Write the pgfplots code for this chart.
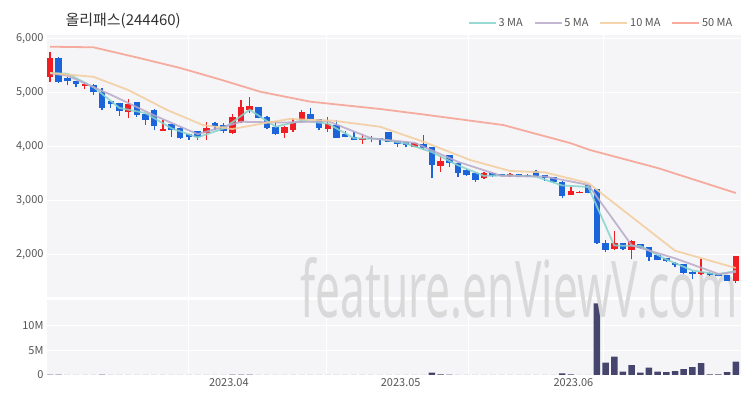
\documentclass[border=0pt]{standalone}
\usepackage{pgfplots}
\pgfplotsset{compat=1.18}
\usepackage{pgfplotstable}
\usepackage{fontspec}
\setmainfont{Noto Sans CJK KR}
\newfontfamily\wmfont{Noto Sans}

\definecolor{cup}{HTML}{F01E23}
\definecolor{cdown}{HTML}{1B64DA}
\definecolor{ma3}{HTML}{86D4CB}
\definecolor{ma5}{HTML}{B9A9C9}
\definecolor{ma10}{HTML}{F3CD9C}
\definecolor{ma50}{HTML}{F6A394}
\definecolor{volc}{HTML}{45456E}
\definecolor{bgc}{HTML}{F5F5F7}
\definecolor{txt}{HTML}{555555}

% rising days (red)
\pgfplotstableread{
i o h l c
0 5300 5760 5210 5650
4 5125 5210 5070 5160
9 4645 4890 4530 4790
13 4300 4500 4290 4340
18 4255 4460 4130 4360
21 4255 4605 4235 4560
22 4470 4870 4440 4745
23 4690 4930 4625 4765
27 4255 4380 4170 4375
28 4315 4530 4285 4440
29 4500 4685 4470 4655
32 4335 4560 4285 4420
36 4130 4235 4050 4170
42 4005 4075 4000 4070
45 3650 3835 3545 3745
50 3420 3530 3415 3525
53 3465 3520 3445 3495
60 3110 3255 3105 3190
61 3145 3180 3140 3170
65 2105 2450 2100 2215
67 2095 2270 1920 2265
75 1650 1920 1630 1685
79 1525 1985 1490 1980
}\upc

% falling days (blue)
\pgfplotstableread{
i o h l c
1 5650 5660 5190 5200
2 5270 5300 5140 5220
3 5220 5225 5110 5160
5 5150 5170 4960 5010
6 5020 5100 4680 4720
7 4860 4860 4730 4790
8 4810 4820 4580 4660
10 4830 4835 4560 4595
11 4605 4610 4410 4500
12 4685 4700 4315 4380
14 4420 4420 4190 4315
15 4360 4370 4150 4165
16 4235 4245 4130 4180
17 4295 4300 4130 4190
19 4450 4455 4315 4380
20 4400 4440 4250 4290
24 4735 4740 4530 4535
25 4560 4565 4325 4350
26 4375 4455 4220 4240
30 4605 4715 4515 4520
31 4520 4525 4315 4360
33 4405 4500 4170 4175
34 4235 4295 4180 4185
35 4190 4270 4125 4130
37 4170 4210 4085 4145
38 4160 4165 4035 4125
39 4275 4280 4095 4100
40 4110 4115 4005 4050
41 4085 4090 3995 4040
43 4050 4220 3945 3975
44 3995 4000 3420 3670
46 3850 3855 3625 3710
47 3700 3705 3450 3525
48 3575 3590 3465 3480
49 3525 3530 3355 3390
51 3525 3535 3445 3465
52 3495 3500 3455 3465
54 3495 3500 3435 3440
55 3490 3495 3435 3440
56 3560 3565 3465 3470
57 3480 3485 3375 3420
58 3440 3445 3340 3350
59 3360 3365 3050 3095
62 3295 3300 3140 3145
63 3215 3220 2210 2215
64 2220 2280 2060 2095
66 2225 2230 2100 2110
68 2205 2210 2120 2125
69 2140 2145 1895 1960
70 1995 2000 1905 1910
71 1940 1945 1875 1880
72 1845 1875 1770 1815
73 1835 1840 1645 1675
74 1690 1695 1550 1650
76 1675 1680 1620 1625
77 1650 1655 1605 1610
78 1630 1635 1520 1525
}\downc

\pgfplotstableread{
i v
0 5370
2 5357
5 5110
8 4723
11 4628
14 4345
17 4178
20 4343
23 4690
26 4375
29 4490
32 4433
35 4163
38 4147
41 4063
44 3905
47 3660
50 3465
53 3475
56 3450
59 3288
62 3260
65 2175
68 2167
71 1917
74 1713
77 1640
79 1705
}\maA

\pgfplotstableread{
i v
0 5365
2 5320
7 4968
12 4585
17 4238
22 4467
27 4453
32 4479
37 4161
42 4077
47 3725
52 3465
57 3453
62 3300
67 2180
72 1938
77 1649
79 1685
}\maB

\pgfplotstableread{
i v
0 5370
5 5300
9 5056
13.5 4685
17.6 4407
21 4333
25 4450
27.6 4519
32.6 4487
38 4376
43 4098
48.4 3759
53 3556
57 3530
62 3333
72 2080
79 1759
}\maC

\pgfplotstableread{
i v
0 5857
5 5846
10.4 5643
15 5463
19.6 5250
24.2 5024
30 4839
38 4704
42.6 4611
52.2 4407
59.9 4074
62.2 3944
70 3611
79 3148
}\maD

% volume in millions
\pgfplotstableread{
i v
0 0.10
1 0.08
2 0.05
3 0.04
4 0.04
5 0.05
6 0.06
7 0.04
8 0.04
9 0.05
10 0.04
11 0.04
12 0.05
13 0.04
14 0.03
15 0.04
16 0.03
17 0.03
18 0.04
19 0.03
20 0.03
21 0.06
22 0.08
23 0.07
24 0.05
25 0.04
26 0.04
27 0.03
28 0.04
29 0.05
30 0.04
31 0.03
32 0.03
33 0.04
34 0.03
35 0.03
36 0.03
37 0.03
38 0.03
39 0.04
40 0.03
41 0.03
42 0.03
43 0.05
44 0.50
45 0.12
46 0.06
47 0.05
48 0.04
49 0.04
50 0.04
51 0.04
52 0.03
53 0.03
54 0.04
55 0.03
56 0.04
57 0.04
58 0.05
59 0.35
60 0.15
61 0.05
62 0.05
63 14.5
64 2.5
65 3.7
66 0.7
67 2.0
68 0.5
69 1.5
70 0.7
71 0.6
72 0.8
73 1.2
74 1.6
75 2.4
76 0.15
77 0.15
78 0.6
79 2.7
}\vol

\pgfplotsset{
  chartbase/.style={
    scale only axis,
    width=694bp,
    xmin=-0.35, xmax=79.6,
    axis line style={draw=none},
    major tick length=0pt,
    axis background/.style={fill=bgc},
    grid style={draw=white, line width=1bp},
    xmajorgrids, ymajorgrids,
    ticklabel style={font=\fontsize{11bp}{13bp}\selectfont, text=txt},
    /pgf/number format/assume math mode=true,
  },
  candle/.style={forget plot, only marks, mark=*, mark size=0pt,
    mark options={draw=none, fill=none},
    error bars/.cd, y dir=plus, y explicit, error mark=none,
    error bar style={draw=#1}},
}

\begin{document}
\begin{tikzpicture}
\path[use as bounding box] (0,0) rectangle (750bp,400bp);

% volume panel
\begin{axis}[chartbase,
  at={(47bp,25bp)}, anchor=south west,
  height=75bp,
  ymin=0, ymax=15.2,
  ytick={0,5,10}, yticklabels={0,5M,10M},
  xtick={15.9,31.9,48.2,63.8}, xticklabels={},
  extra x ticks={20.6,40.4,60.3},
  extra x tick labels={2023.04,2023.05,2023.06},
  extra x tick style={grid=none},
]
\addplot[ybar, bar width=6.5bp, fill=volc, draw=none] table[x=i, y=v] {\vol};
\end{axis}

% price panel
\begin{axis}[chartbase,
  at={(47bp,103bp)}, anchor=south west,
  height=262bp,
  ymin=1222, ymax=6074,
  ytick={2000,3000,4000,5000,6000},
  yticklabel style={/pgf/number format/.cd, fixed, 1000 sep={,}},
  xtick={15.9,31.9,48.2,63.8}, xticklabels={},
  clip=false,
  legend style={at={(0.995,1.012)}, anchor=south east, legend columns=4,
    draw=none, fill=none, font=\fontsize{11bp}{13bp}\selectfont\color{txt},
    /tikz/every even column/.append style={column sep=9bp}},
  legend image code/.code={\draw[#1, line width=1.6bp] (0bp,0bp) -- (27bp,0bp);},
]
\node[anchor=base west, text=black!15, inner sep=0pt] at (rel axis cs:0.3646,-0.080)
  {\resizebox{437bp}{60bp}{\wmfont feature.enViewV.com}};

% wicks
\addplot[candle={cup, line width=1.3bp}]
  table[x=i, y=l, y error expr=\thisrow{h}-\thisrow{l}] {\upc};
\addplot[candle={cdown, line width=1.3bp}]
  table[x=i, y=l, y error expr=\thisrow{h}-\thisrow{l}] {\downc};
% bodies
\addplot[candle={cup, line width=6.5bp}]
  table[x=i, y=o, y error expr={max(\thisrow{c}-\thisrow{o},25)}] {\upc};
\addplot[candle={cdown, line width=6.5bp}]
  table[x=i, y=c, y error expr={max(\thisrow{o}-\thisrow{c},25)}] {\downc};

% moving averages
\addplot[ma3, line width=1.8bp, opacity=0.85, mark=none] table[x=i, y=v] {\maA};
\addplot[ma5, line width=1.8bp, opacity=0.85, mark=none] table[x=i, y=v] {\maB};
\addplot[ma10, line width=1.8bp, opacity=0.85, mark=none] table[x=i, y=v] {\maC};
\addplot[ma50, line width=1.8bp, opacity=0.9, mark=none] table[x=i, y=v] {\maD};
\legend{3 MA, 5 MA, 10 MA, 50 MA}
\end{axis}

\node[anchor=west, text=black!80, font=\fontsize{15bp}{17bp}\selectfont] at (62bp,379bp) {올리패스(244460)};
\end{tikzpicture}
\end{document}
